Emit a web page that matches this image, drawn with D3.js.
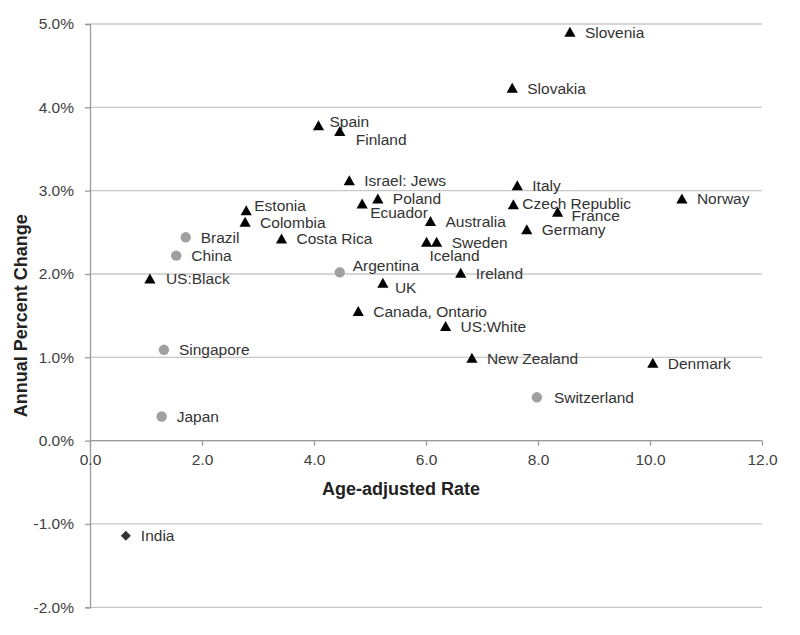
<!DOCTYPE html>
<html>
<head>
<meta charset="utf-8">
<script src="https://cdn.jsdelivr.net/npm/d3@7/dist/d3.min.js"></script>
<style>
  html, body { margin: 0; padding: 0; background: #fff; }
  svg { display: block; font-family: "Liberation Sans", Arial, sans-serif; }
</style>
</head>
<body>
<svg id="chart" width="800" height="635"></svg>
<script>
// ---- Data ----
const names = ["Slovenia","Slovakia","Spain","Finland","Israel: Jews","Poland","Ecuador","Estonia","Colombia","Brazil","Costa Rica","China","US:Black","Argentina","UK","Canada, Ontario","Singapore","Japan","India","Italy","Czech Republic","France","Norway","Australia","Germany","Sweden","Iceland","Ireland","US:White","New Zealand","Denmark","Switzerland"];
const rates = [8.57,7.54,4.08,4.46,4.63,5.14,4.86,2.79,2.77,1.71,3.42,1.54,1.07,4.46,5.23,4.79,1.32,1.28,0.64,7.63,7.56,8.35,10.57,6.08,7.80,6.19,6.01,6.62,6.35,6.82,10.05,7.98];
const changes = [4.90,4.23,3.78,3.71,3.12,2.90,2.84,2.76,2.62,2.44,2.42,2.22,1.94,2.02,1.89,1.55,1.09,0.29,-1.14,3.06,2.83,2.74,2.90,2.63,2.53,2.38,2.38,2.01,1.37,0.99,0.93,0.52];
const groups = ["tri","tri","tri","tri","tri","tri","tri","tri","tri","circle","tri","circle","tri","circle","tri","tri","circle","circle","diamond","tri","tri","tri","tri","tri","tri","tri","tri","tri","tri","tri","tri","circle"];
const xTicks = [0,2,4,6,8,10,12];
const yTicks = [-2,-1,0,1,2,3,4,5];

// ---- Layout (label placement) ----
const labelDefault = {dx: 15, dy: 0};
const labelOffsets = {
  "Spain": {dx: 11, dy: -4},
  "Finland": {dx: 16, dy: 8},
  "Estonia": {dx: 8, dy: -5},
  "Ecuador": {dx: 8, dy: 9},
  "Argentina": {dx: 13, dy: -7},
  "UK": {dx: 12, dy: 4},
  "Iceland": {dx: 3, dy: 13},
  "France": {dx: 14, dy: 3},
  "Czech Republic": {dx: 9, dy: -1},
  "US:Black": {dx: 16, dy: 0},
  "Switzerland": {dx: 17, dy: 0}
};

const points = names.map((n, i) => ({name: n, x: rates[i], y: changes[i], g: groups[i]}));

const svg = d3.select("#chart");
const x = d3.scaleLinear().domain([0, 12]).range([90, 762]);
const y = d3.scaleLinear().domain([-2, 5]).range([607.3, 24]);

// gridlines
svg.append("g").selectAll("line").data(yTicks).join("line")
  .attr("x1", x(0)).attr("x2", x(12))
  .attr("y1", d => y(d)).attr("y2", d => y(d))
  .attr("stroke", "#c8c8c8").attr("stroke-width", 1.3);

// y axis
const yAxis = d3.axisLeft(y).tickValues(yTicks).tickSize(5).tickPadding(11)
  .tickFormat(d => d3.format(".1f")(d).replace("\u2212", "-") + "%");
const gy = svg.append("g").attr("transform", `translate(${x(0)},0)`).call(yAxis);
gy.select(".domain").attr("stroke", "#9a9a9a").attr("stroke-width", 1.3);
gy.selectAll(".tick line").attr("stroke", "#9a9a9a").attr("stroke-width", 1.3);
gy.selectAll(".tick text").attr("fill", "#404040").style("font-size", "15.5px")
  .style("font-family", "'Liberation Sans', Arial, sans-serif");

// x axis at y=0
const xAxis = d3.axisBottom(x).tickValues(xTicks).tickSize(5).tickPadding(8)
  .tickFormat(d3.format(".1f"));
const gx = svg.append("g").attr("transform", `translate(0,${y(0)})`).call(xAxis);
gx.select(".domain").attr("stroke", "#9a9a9a").attr("stroke-width", 1.3)
  .attr("d", `M${x(0)},0H${x(12)}`);
gx.selectAll(".tick line").attr("stroke", "#9a9a9a").attr("stroke-width", 1.3);
gx.selectAll(".tick text").attr("fill", "#404040").style("font-size", "15.5px")
  .style("font-family", "'Liberation Sans', Arial, sans-serif");

// axis titles
svg.append("text").attr("x", 401).attr("y", 495).attr("text-anchor", "middle")
  .style("font-weight", "bold").style("font-size", "18px").attr("fill", "#222")
  .text("Age-adjusted Rate");
svg.append("text").attr("transform", `translate(27,${(y(5) + y(-2)) / 2}) rotate(-90)`)
  .attr("text-anchor", "middle")
  .style("font-weight", "bold").style("font-size", "18px").attr("fill", "#222")
  .text("Annual Percent Change");

// markers
const tri = "M0,-5.5L5.6,4.5L-5.6,4.5Z";
const dia = "M0,-5L5,0L0,5L-5,0Z";
const mk = svg.append("g");
points.forEach(p => {
  const cx = x(p.x), cy = y(p.y);
  if (p.g === "circle") {
    mk.append("circle").attr("cx", cx).attr("cy", cy).attr("r", 5.2).attr("fill", "#a0a0a0");
  } else if (p.g === "diamond") {
    mk.append("path").attr("d", dia).attr("transform", `translate(${cx},${cy})`).attr("fill", "#333");
  } else {
    mk.append("path").attr("d", tri).attr("transform", `translate(${cx},${cy})`).attr("fill", "#000");
  }
});

// labels
svg.append("g").selectAll("text").data(points).join("text")
  .attr("x", d => x(d.x) + (labelOffsets[d.name] || labelDefault).dx)
  .attr("y", d => y(d.y) + (labelOffsets[d.name] || labelDefault).dy)
  .attr("dy", "0.35em")
  .style("font-size", "15.5px").attr("fill", "#333")
  .text(d => d.name);
</script>
</body>
</html>
